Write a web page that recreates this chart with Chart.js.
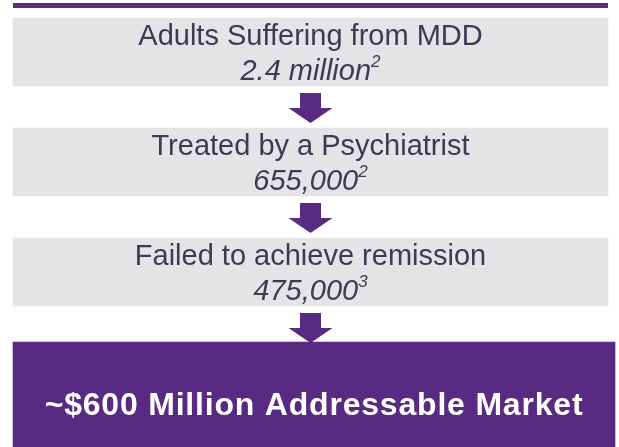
<!DOCTYPE html>
<html><head><meta charset="utf-8">
<script src="https://cdn.jsdelivr.net/npm/chart.js@4/dist/chart.umd.min.js"></script>
<style>html,body{margin:0;padding:0;background:#fff}#wrap{width:619px;height:447px;position:relative}</style>
</head><body><div id="wrap"><canvas id="c"></canvas></div>
<script>
// ---- data ----
const stages = ["Adults Suffering from MDD", "Treated by a Psychiatrist", "Failed to achieve remission"];
const stageValues = ["2.4 million", "655,000", "475,000"];
const footnotes = ["2", "2", "3"];
const resultLabels = ["~$600 Million Addressable Market"];
const boxSpan = [0, 1]; // every funnel box spans the full width

// ---- styles ----
const GREY = "#e5e3e6";
const PURPLE = "#592a82";
const TEXT = "#3d3a52";
const FONT = '"Liberation Sans", Arial, sans-serif';

const funnelText = {
  id: "funnelText",
  afterDatasetsDraw(chart) {
    const ctx = chart.ctx;
    const x = chart.scales.x, y = chart.scales.y, y2 = chart.scales.y2, x2 = chart.scales.x2;
    const left = x.getPixelForValue(boxSpan[0]), right = x.getPixelForValue(boxSpan[1]);
    const cx = x.getPixelForValue((boxSpan[0] + boxSpan[1]) / 2);
    const half = chart.data.datasets[0].barThickness / 2;
    ctx.save();
    // top rule
    ctx.fillStyle = PURPLE;
    ctx.fillRect(left, 3, right - left, 5);
    // arrows
    stages.forEach((s, i) => {
      const top = y.getPixelForValue(i) + half + 7;
      ctx.beginPath();
      ctx.moveTo(cx - 10.5, top);
      ctx.lineTo(cx + 10.5, top);
      ctx.lineTo(cx + 10.5, top + 15);
      ctx.lineTo(cx + 22, top + 15);
      ctx.lineTo(cx, top + 30);
      ctx.lineTo(cx - 22, top + 15);
      ctx.lineTo(cx - 10.5, top + 15);
      ctx.closePath();
      ctx.fillStyle = PURPLE;
      ctx.fill();
    });
    // stage texts
    ctx.fillStyle = TEXT;
    ctx.textBaseline = "alphabetic";
    stages.forEach((s, i) => {
      const cy = y.getPixelForValue(i);
      ctx.textAlign = "center";
      ctx.font = "29px " + FONT;
      ctx.fillText(s, cx, cy - 7);
      ctx.font = "italic 29px " + FONT;
      const w1 = ctx.measureText(stageValues[i]).width;
      ctx.font = "italic 17px " + FONT;
      const w2 = ctx.measureText(footnotes[i]).width;
      const start = cx - (w1 + w2) / 2;
      ctx.textAlign = "left";
      ctx.font = "italic 29px " + FONT;
      ctx.fillText(stageValues[i], start, cy + 28);
      ctx.font = "italic 17px " + FONT;
      ctx.fillText(footnotes[i], start + w1, cy + 15);
    });
    // result text
    const rcx = x2.getPixelForValue(0.5);
    ctx.fillStyle = "#ffffff";
    ctx.textAlign = "center";
    ctx.font = "bold 32px " + FONT;
    try { ctx.letterSpacing = "0.8px"; } catch (e) {}
    ctx.fillText(resultLabels[0], rcx, y2.getPixelForValue(0) + 20);
    ctx.restore();
  }
};

new Chart(document.getElementById("c"), {
  type: "bar",
  data: {
    labels: stages,
    datasets: [
      {
        label: "Funnel stages",
        data: stages.map((s, i) => ({ x: boxSpan, y: i })),
        backgroundColor: GREY,
        borderWidth: 0,
        barThickness: 68,
        grouped: false,
        xAxisID: "x",
        yAxisID: "y"
      },
      {
        label: "Addressable market",
        data: resultLabels.map((s, i) => ({ x: boxSpan, y: i })),
        backgroundColor: PURPLE,
        borderWidth: 0,
        barThickness: 105,
        grouped: false,
        xAxisID: "x2",
        yAxisID: "y2"
      }
    ]
  },
  options: {
    indexAxis: "y",
    responsive: true,
    maintainAspectRatio: false,
    animation: false,
    layout: { padding: 0 },
    plugins: { legend: { display: false }, tooltip: { enabled: false }, title: { display: false } },
    scales: {
      x: { type: "linear", display: false, offset: false, min: -13 / 595, max: 1 + 11 / 595 },
      x2: { type: "linear", display: false, offset: false, min: -13 / 602, max: 1 + 4 / 602 },
      y: { type: "linear", display: false, offset: false, reverse: true, min: -52 / 110, max: -52 / 110 + 447 / 110 },
      y2: { type: "linear", display: false, offset: false, reverse: true, min: -394.5 / 447, max: -394.5 / 447 + 1 }
    }
  },
  plugins: [funnelText]
});
</script>
</body></html>
